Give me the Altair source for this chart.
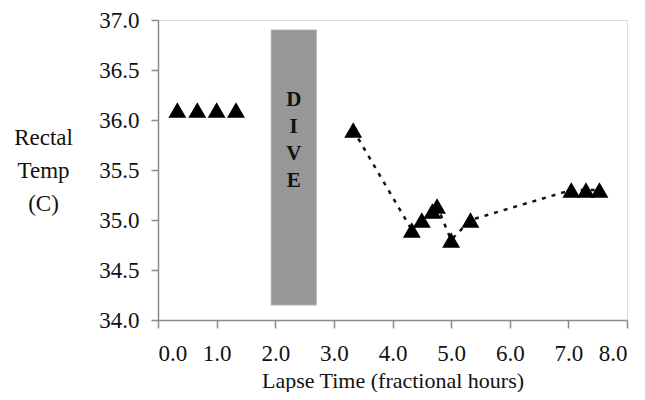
import altair as alt
import pandas as pd

# Data
pre_x = [0.33, 0.67, 1.0, 1.33]
pre_y = [36.1, 36.1, 36.1, 36.1]
post_x = [3.33, 4.33, 4.5, 4.68, 4.76, 5.0, 5.33, 7.05, 7.3, 7.53]
post_y = [35.9, 34.9, 35.0, 35.09, 35.14, 34.8, 35.0, 35.3, 35.3, 35.3]

dive_start, dive_end = 1.93, 2.70
dive_low, dive_high = 34.15, 36.9
dive_label = "D\nI\nV\nE"
dive_label_y = 36.2

x_ticks = [0, 1, 2, 3, 4, 5, 6, 7, 8]
y_ticks = [34.0, 34.5, 35.0, 35.5, 36.0, 36.5, 37.0]

FONT = "Liberation Serif"
AXIS_GRAY = "#8a8a8a"

pre_df = pd.DataFrame({"x": pre_x, "y": pre_y})
post_df = pd.DataFrame({"x": post_x, "y": post_y})
dive_df = pd.DataFrame({"x": [dive_start], "x2": [dive_end],
                        "y": [dive_low], "y2": [dive_high],
                        "xm": [(dive_start + dive_end) / 2],
                        "ly": [dive_label_y], "label": [dive_label]})

xscale = alt.Scale(domain=[0, 8], nice=False, zero=False)
yscale = alt.Scale(domain=[34, 37], nice=False, zero=False)

xaxis = alt.Axis(values=x_ticks, format=".1f", title="Lapse Time (fractional hours)",
                 grid=False, tickSize=8, labelPadding=14, titlePadding=5,
                 domainColor=AXIS_GRAY, tickColor=AXIS_GRAY, domainWidth=1.5, tickWidth=1.5,
                 labelFont=FONT, labelFontSize=23, labelColor="#111",
                 titleFont=FONT, titleFontSize=22, titleFontWeight="normal", titleColor="#111")
yaxis = alt.Axis(values=y_ticks, format=".1f", title=["Rectal", "Temp", "(C)"],
                 grid=False, tickSize=7, labelPadding=12,
                 domainColor=AXIS_GRAY, tickColor=AXIS_GRAY, domainWidth=1.5, tickWidth=1.5,
                 labelFont=FONT, labelFontSize=23, labelColor="#111",
                 titleFont=FONT, titleFontSize=23, titleFontWeight="normal", titleColor="#111",
                 titleAngle=0, titleAlign="center", titleBaseline="middle",
                 titleX=-115, titleY=117, titleLineHeight=33)

rect = alt.Chart(dive_df).mark_rect(color="#979797", stroke="#b0b0b0", strokeWidth=1).encode(
    x=alt.X("x:Q", scale=xscale, axis=xaxis),
    x2="x2:Q",
    y=alt.Y("y:Q", scale=yscale, axis=yaxis),
    y2="y2:Q",
)

dive_text = alt.Chart(dive_df).mark_text(
    font=FONT, fontSize=21, fontWeight="bold", color="#111",
    lineBreak="\n", lineHeight=27, align="center", baseline="middle"
).encode(x=alt.X("xm:Q", scale=xscale), y=alt.Y("ly:Q", scale=yscale), text="label:N")

line = alt.Chart(post_df).mark_line(color="#111", strokeDash=[4, 6], strokeWidth=2.5).encode(
    x=alt.X("x:Q", scale=xscale), y=alt.Y("y:Q", scale=yscale), order="x:Q"
)

pts_post = alt.Chart(post_df).mark_point(shape="triangle-up", filled=True, color="#000",
                                         size=320, opacity=1).encode(
    x=alt.X("x:Q", scale=xscale), y=alt.Y("y:Q", scale=yscale)
)
pts_pre = alt.Chart(pre_df).mark_point(shape="triangle-up", filled=True, color="#000",
                                       size=320, opacity=1).encode(
    x=alt.X("x:Q", scale=xscale), y=alt.Y("y:Q", scale=yscale)
)

chart = alt.layer(rect, dive_text, line, pts_post, pts_pre).properties(
    width=469, height=300,
    autosize=alt.AutoSizeParams(type="none"),
    padding={"left": 150, "top": 12, "right": 10, "bottom": 72},
).configure_view(stroke=None).configure(background="white")

chart.save("out.html", embed_options={"renderer": "svg", "actions": False})
